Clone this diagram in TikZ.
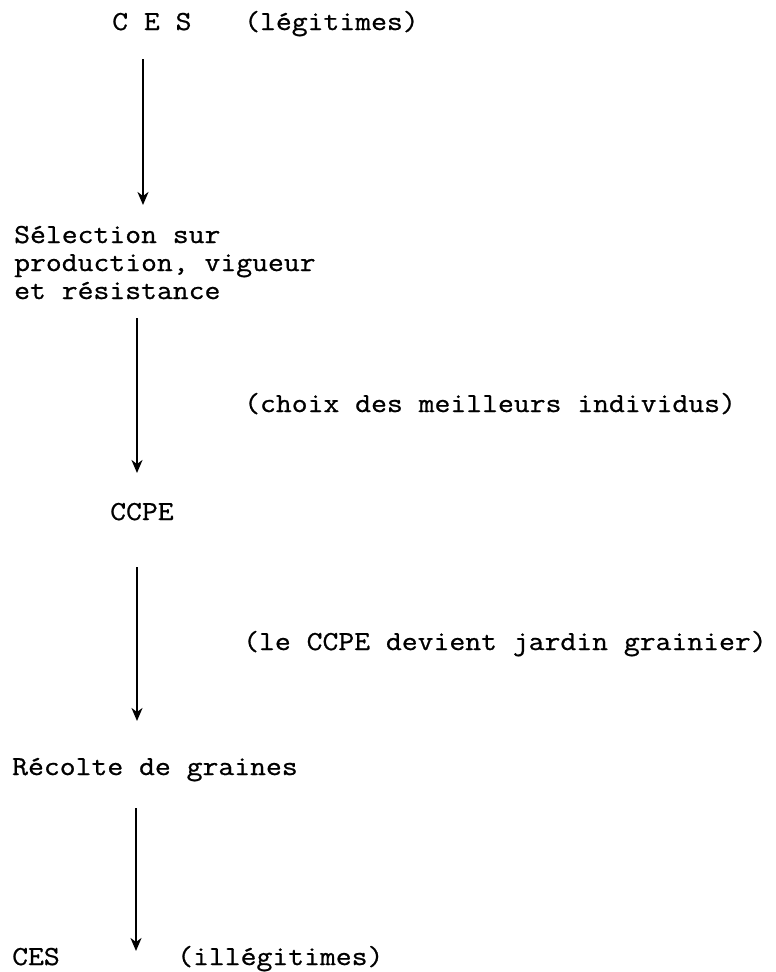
\documentclass[tikz,border=0pt]{standalone}
\usepackage{fontspec}
\newfontfamily\courfont[FakeStretch=1.12, FakeBold=0.8]{Latin Modern Mono}
\usetikzlibrary{arrows.meta}
\tikzset{
  txt/.style={anchor=base west, inner sep=0pt, font=\courfont\fontsize{27.5}{28}\selectfont},
  flow/.style={line width=1.9pt, -{Stealth[length=13pt, width=11pt, inset=4pt]}}
}
\begin{document}
\begin{tikzpicture}[x=1pt, y=-1pt]
\useasboundingbox[fill=white] (0,0) rectangle (776,972);
% texts
\node[txt] (ces) at (112,30) {C E S};
\node[txt] (leg) at (244,30) {(légitimes)};
\node[txt] (sel1) at (14,243) {Sélection sur};
\node[txt] (sel2) at (14,271) {production, vigueur};
\node[txt] (sel3) at (14,299) {et résistance};
\node[txt] (choix) at (244,412) {(choix des meilleurs individus)};
\node[txt] (ccpe) at (110,520) {CCPE};
\node[txt] (jardin) at (243,650) {(le CCPE devient jardin grainier)};
\node[txt] (recolte) at (12,775) {Récolte de graines};
\node[txt] (cesi) at (12,965) {CES};
\node[txt] (illeg) at (177,965) {(illégitimes)};
% arrow ends
\coordinate (a1s) at (143,59);
\coordinate (a1e) at (143,205);
\coordinate (a2s) at (137,318);
\coordinate (a2e) at (137,473);
\coordinate (a3s) at (137,567);
\coordinate (a3e) at (137,721);
\coordinate (a4s) at (136,808);
\coordinate (a4e) at (136,951);
\draw[flow] (a1s) -- (a1e);
\draw[flow] (a2s) -- (a2e);
\draw[flow] (a3s) -- (a3e);
\draw[flow] (a4s) -- (a4e);
\end{tikzpicture}
\end{document}
